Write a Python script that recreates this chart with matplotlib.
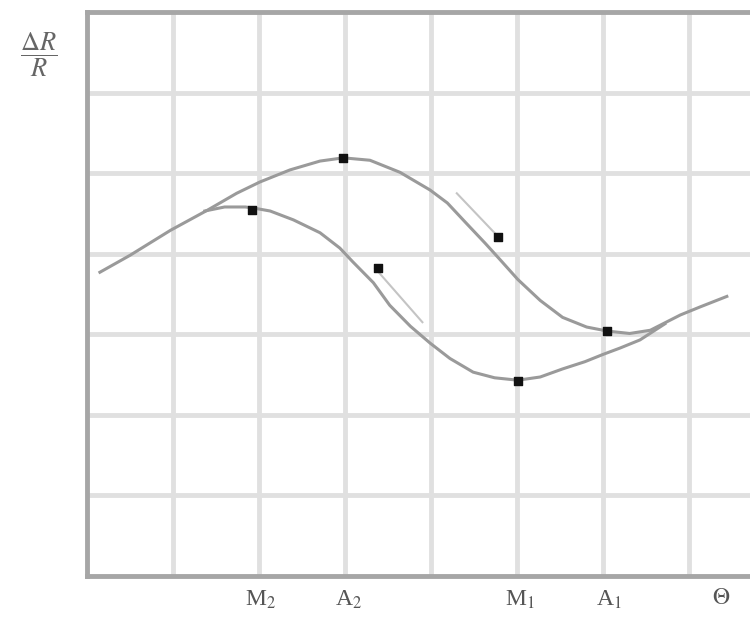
import matplotlib
matplotlib.use("Agg")
import matplotlib.pyplot as plt

plt.rcParams['mathtext.fontset'] = 'stix'
plt.rcParams['font.family'] = 'serif'
plt.rcParams['font.serif'] = ['Liberation Serif', 'DejaVu Serif']

# main curve (heating branch), grid units
upper_x = [0.15, 0.50, 0.97, 1.40, 1.74, 2.01, 2.36, 2.71, 2.98, 3.29, 3.64, 3.99,
           4.19, 4.40, 4.63, 4.80, 5.01, 5.27, 5.53, 5.81, 6.05, 6.31, 6.55, 6.90,
           7.13, 7.44]
upper_y = [3.77, 3.98, 4.29, 4.54, 4.75, 4.89, 5.04, 5.15, 5.19, 5.16, 5.01, 4.79,
           4.63, 4.39, 4.13, 3.93, 3.68, 3.42, 3.21, 3.09, 3.04, 3.01, 3.05, 3.24,
           3.34, 3.47]

# lower branch (cooling)
lower_x = [1.37, 1.60, 1.84, 1.92, 2.13, 2.40, 2.71, 2.94, 3.09, 3.33, 3.52, 3.76,
           3.99, 4.22, 4.49, 4.74, 5.01, 5.27, 5.53, 5.79, 6.00, 6.20, 6.43, 6.72]
lower_y = [4.53, 4.58, 4.58, 4.57, 4.53, 4.42, 4.26, 4.07, 3.90, 3.64, 3.36, 3.10,
           2.89, 2.70, 2.53, 2.46, 2.43, 2.47, 2.57, 2.66, 2.75, 2.83, 2.93, 3.13]

dots_x = [1.92, 2.98, 3.38, 4.78, 5.01, 6.05]
dots_y = [4.54, 5.19, 3.82, 4.21, 2.42, 3.04]

# short slope marks next to the dots
marks = [((4.30, 4.80), (4.75, 4.19)),
         ((3.35, 3.90), (3.82, 3.15))]

tick_pos = [2.02, 3.04, 5.03, 6.07, 7.37]
tick_labels = [r'M$_2$', r'A$_2$', r'M$_1$', r'A$_1$', r'$\Theta$']

fig = plt.figure(figsize=(7.5, 6.23), dpi=100)
ax = fig.add_axes([87 / 750, 47 / 623, 663 / 750, 564 / 623])

for gx in range(1, 8):
    ax.axvline(gx, color='#e0e0e0', lw=3.5, zorder=1)
for gy in range(1, 7):
    ax.axhline(gy, color='#e0e0e0', lw=3.5, zorder=1)

ax.plot(upper_x, upper_y, color='#9a9a9a', lw=2.2, zorder=3, solid_joinstyle='round')
ax.plot(lower_x, lower_y, color='#9a9a9a', lw=2.2, zorder=3, solid_joinstyle='round')
for mx, my in marks:
    ax.plot(mx, my, color='#c4c4c4', lw=1.5, zorder=2)
ax.scatter(dots_x, dots_y, s=40, marker='s', color='#111111', zorder=4)

ax.set_xlim(0, 663 / 86)
ax.set_ylim(0, 7)
ax.set_xticks(tick_pos)
ax.set_xticklabels(tick_labels, fontsize=17, color='#555555')
ax.tick_params(axis='x', length=0, pad=9)
ax.set_yticks([])

for side in ['left', 'bottom', 'top']:
    ax.spines[side].set_color('#a6a6a6')
    ax.spines[side].set_linewidth(3.5)
ax.spines['right'].set_visible(False)

fig.text(0.052, 1 - 55 / 623, r'$\dfrac{\Delta R}{R}$', fontsize=19,
         ha='center', va='center', color='#666666')

fig.savefig('out.png', dpi=100)
